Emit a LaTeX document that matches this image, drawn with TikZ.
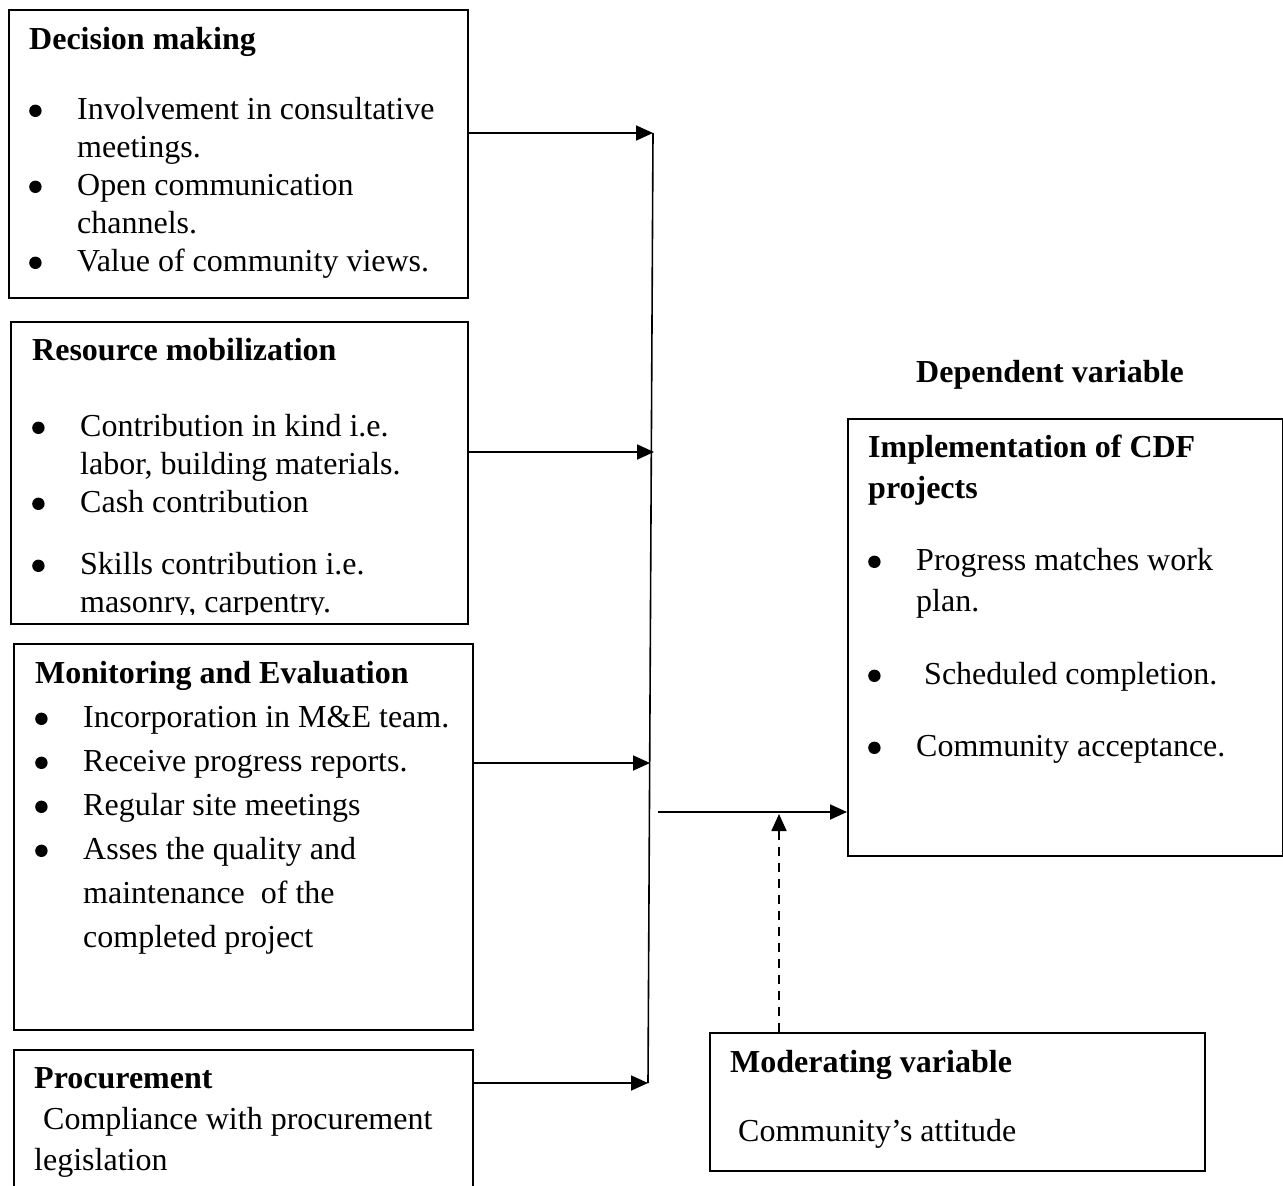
\documentclass[tikz,border=0pt]{standalone}
\usepackage{fontspec}
\setmainfont{Liberation Serif}
\usepackage{tikz}
\usetikzlibrary{positioning,arrows.meta}

\newcommand{\bul}{\makebox[48pt][l]{\raisebox{2pt}{\tikz\fill (0,0) circle[radius=6.2pt];}}}
\newcommand{\ind}{\hspace*{48pt}}

\begin{document}
\begin{tikzpicture}[
  x=1pt, y=-1pt,
  frame/.style={draw, line width=1.6pt, anchor=north west, inner sep=0pt},
  txt/.style={anchor=base west, inner sep=0pt,
              font=\fontsize{32}{38}\selectfont},
  arrow/.style={-{Triangle[length=17pt,width=15pt]}, line width=1.8pt},
  bus/.style={line width=1.6pt},
  darrow/.style={arrow, dash pattern=on 9pt off 7pt}
]
\clip (0,0) rectangle (1283,1186);

%% Independent variables
\node (decision) [frame, minimum width=459pt, minimum height=288pt] at (8,9) {};
\node (decisiontxt) [txt] at (29,49) {\parbox[t]{436pt}{%
  \textbf{Decision making}\\[32pt]
  \bul Involvement in consultative\\
  \ind meetings.\\
  \bul Open communication\\
  \ind channels.\\
  \bul Value of community views.}};

\node (resource) [frame, minimum width=457pt, minimum height=302pt] at (10,321) {};
\begin{scope}
  \clip (10,321) rectangle (467,614);
  \node (resourcetxt) [txt] at (32,360) {\parbox[t]{430pt}{%
    \textbf{Resource mobilization}\\[38pt]
    \bul Contribution in kind i.e.\\
    \ind labor, building materials.\\
    \bul Cash contribution\\[24pt]
    \bul Skills contribution i.e.\\
    \ind masonry, carpentry.}};
\end{scope}

\node (monitor) [frame, minimum width=459pt, minimum height=386pt] at (13,643) {};
\node (monitortxt) [txt, font=\fontsize{32}{44}\selectfont] at (35,683) {\parbox[t]{436pt}{%
  \textbf{Monitoring and Evaluation}\\
  \bul Incorporation in M\&E team.\\
  \bul Receive progress reports.\\
  \bul Regular site meetings\\
  \bul Asses the quality and\\
  \ind maintenance\ \ of the\\
  \ind completed project}};

\node (procure) [frame, minimum width=459pt, minimum height=200pt] at (13,1049) {};
\node (procuretxt) [txt, font=\fontsize{32}{41}\selectfont] at (34,1088) {\parbox[t]{436pt}{%
  \textbf{Procurement}\\
  \hspace*{9pt}Compliance with procurement\\
  legislation}};

%% Dependent variable
\node (deplabel) [anchor=base, inner sep=0pt, font=\fontsize{32}{38}\selectfont\bfseries]
  at (1050,382) {Dependent variable};
\node (implement) [frame, minimum width=435pt, minimum height=437pt] at (847,418) {};
\node (implementtxt) [txt, font=\fontsize{32}{41}\selectfont] at (868,457) {\parbox[t]{400pt}{%
  \textbf{Implementation of CDF}\\
  \textbf{projects}\\[31pt]
  \bul Progress matches work\\
  \ind plan.\\[32pt]
  \bul\hspace*{8pt}Scheduled completion.\\[31pt]
  \bul Community acceptance.}};

%% Moderating variable
\node (moderate) [frame, minimum width=495pt, minimum height=138pt] at (709,1032) {};
\node (moderatetxt) [txt, font=\fontsize{32}{69}\selectfont] at (730,1072) {\parbox[t]{460pt}{%
  \textbf{Moderating variable}\\
  \hspace*{8pt}Community’s attitude}};

%% Joints on the collecting line
\coordinate (j1) at (653,133);
\coordinate (j2) at (654,452);
\coordinate (j3) at (650,763);
\coordinate (j4) at (648,1083);
\coordinate (hub) at (658,812);
\coordinate (modtip) at (779,814);

%% Arrows: independent variables -> collecting line
\draw [arrow] (decision.east |- j1) -- (j1);
\draw [arrow] (resource.east |- j2) -- (j2);
\draw [arrow] (monitor.east |- j3) -- (j3);
\draw [arrow] (procure.east |- j4) -- (j4);
\draw [bus] (j1) -- (j4);

%% Collecting line -> dependent variable
\draw [arrow] (hub) -- (implement.west |- hub);

%% Moderating variable (dashed)
\draw [darrow] (moderate.north -| modtip) -- (modtip);

\end{tikzpicture}
\end{document}
